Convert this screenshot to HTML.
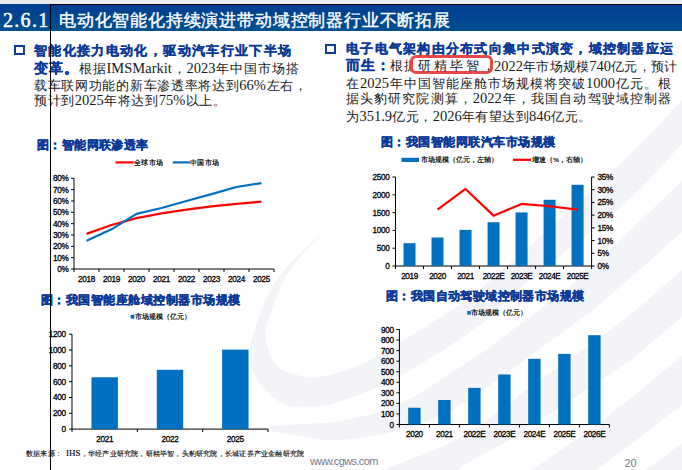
<!DOCTYPE html>
<html><head><meta charset="utf-8">
<style>
html,body{margin:0;padding:0;}
body{width:682px;height:470px;position:relative;overflow:hidden;background:#fff;font-family:"Liberation Serif",serif;}
.a{position:absolute;white-space:nowrap;}
.ln{position:absolute;white-space:nowrap;font-size:13px;line-height:20px;color:#1a1a1a;text-align:justify;text-align-last:justify;}
.n{font-size:14.5px;}
.b{color:#0b3a98;font-weight:bold;-webkit-text-stroke:0.3px #0b3a98;}
.ttl{position:absolute;white-space:nowrap;font-size:12px;line-height:16px;color:#0b3a98;font-weight:bold;text-align:justify;text-align-last:justify;-webkit-text-stroke:0.4px #0b3a98;}
.lg{position:absolute;white-space:nowrap;font-size:7px;line-height:10px;color:#000;text-align:justify;text-align-last:justify;-webkit-text-stroke:0.2px #000;}
.sq{position:absolute;box-sizing:border-box;border:2.5px solid #0b3a98;width:11px;height:10px;}
svg text{font-family:"Liberation Sans",sans-serif;stroke:#000;stroke-width:0.3px;}
</style></head>
<body>
<svg class="a" style="left:0;top:0" width="682" height="470" viewBox="0 0 682 470">
<g fill="#f3f4f8"><path d="M330.0 226.0 C323.3 233.3 300.0 255.2 290.0 270.0 C280.0 284.8 274.0 303.3 270.0 315.0 C266.0 326.7 265.0 331.7 266.0 340.0 C267.0 348.3 271.2 359.2 276.0 365.0 C280.8 370.8 287.7 372.5 295.0 374.5 C302.3 376.5 309.2 378.6 320.0 377.0 C330.8 375.4 346.7 370.8 360.0 365.0 C373.3 359.2 387.3 349.5 400.0 342.0 C412.7 334.5 420.8 330.3 436.0 320.0 C451.2 309.7 460.0 306.3 491.0 280.0 C522.0 253.7 590.2 192.0 622.0 162.0 C653.8 132.0 665.7 117.0 682.0 100.0 C698.3 83.0 713.7 66.7 720.0 60.0 L720.0 104.0 C713.7 110.7 698.3 127.0 682.0 144.0 C665.7 161.0 648.2 182.7 622.0 206.0 C595.8 229.3 548.7 264.2 525.0 284.0 C501.3 303.8 500.8 309.7 480.0 325.0 C459.2 340.3 423.7 363.2 400.0 376.0 C376.3 388.8 354.3 396.9 338.0 402.0 C321.7 407.1 311.5 406.7 302.0 406.8 C292.5 406.9 288.0 406.4 281.0 402.6 C274.0 398.8 265.2 391.1 260.0 384.0 C254.8 376.9 251.0 368.7 250.0 360.0 C249.0 351.3 249.3 345.7 254.0 332.0 C258.7 318.3 265.3 295.7 278.0 278.0 C290.7 260.3 321.3 234.7 330.0 226.0 Z"/><path d="M252.0 428.0 C260.0 427.3 285.3 425.2 300.0 424.0 C314.7 422.8 323.3 424.3 340.0 421.0 C356.7 417.7 376.7 415.2 400.0 404.0 C423.3 392.8 463.5 364.7 480.0 354.0 C496.5 343.3 482.7 352.3 499.0 340.0 C515.3 327.7 557.5 297.0 578.0 280.0 C598.5 263.0 604.7 254.5 622.0 238.0 C639.3 221.5 665.7 196.5 682.0 181.0 C698.3 165.5 713.7 151.0 720.0 145.0 L720.0 198.0 C713.7 203.7 698.3 217.5 682.0 232.0 C665.7 246.5 635.7 273.0 622.0 285.0 C608.3 297.0 611.7 294.8 600.0 304.0 C588.3 313.2 575.3 323.2 552.0 340.0 C528.7 356.8 485.3 390.0 460.0 405.0 C434.7 420.0 420.0 424.2 400.0 430.0 C380.0 435.8 356.7 439.0 340.0 440.0 C323.3 441.0 314.7 438.0 300.0 436.0 C285.3 434.0 260.0 429.3 252.0 428.0 Z"/><path d="M370.0 474.0 C385.0 467.9 431.7 453.4 460.0 437.7 C488.3 422.0 513.0 399.4 540.0 380.0 C567.0 360.6 598.3 339.3 622.0 321.0 C645.7 302.7 665.7 283.8 682.0 270.0 C698.3 256.2 713.7 243.3 720.0 238.0 L720.0 288.0 C713.7 292.8 698.3 304.0 682.0 317.0 C665.7 330.0 648.2 347.2 622.0 366.0 C595.8 384.8 548.7 415.0 525.0 430.0 C501.3 445.0 492.5 448.7 480.0 456.0 C467.5 463.3 455.0 471.0 450.0 474.0 Z"/><path d="M525.0 474.0 C534.2 467.8 563.8 448.5 580.0 437.0 C596.2 425.5 605.0 418.5 622.0 405.0 C639.0 391.5 665.7 369.2 682.0 356.0 C698.3 342.8 713.7 331.0 720.0 326.0 L720.0 378.0 C713.7 382.5 698.3 392.8 682.0 405.0 C665.7 417.2 637.3 439.5 622.0 451.0 C606.7 462.5 595.3 470.2 590.0 474.0 Z"/><path d="M640.0 474.0 C647.0 468.9 668.7 453.2 682.0 443.5 C695.3 433.8 713.7 420.6 720.0 416.0 L720.0 480.0 C716.7 480.0 703.3 480.0 700.0 480.0 Z"/></g>
</svg>

<!-- top strip -->
<div class="a" style="left:0;top:0;width:682px;height:4px;background:#e9e9ee"></div>
<div class="a" style="left:0;top:4px;width:682px;height:27px;background:linear-gradient(#003d93,#00508f)"></div>
<div class="a" style="left:50px;top:4px;width:632px;height:1px;background:#000"></div>
<div class="a" style="left:3px;top:6.5px;font-size:20px;line-height:26px;color:#fff;letter-spacing:1.3px;-webkit-text-stroke:0.5px #fff">2.6.1</div>
<div class="a" style="left:59px;top:7.5px;width:391px;font-size:17px;line-height:26px;color:#fff;text-align:justify;text-align-last:justify;-webkit-text-stroke:0.4px #fff">电动化智能化持续演进带动域控制器行业不断拓展</div>

<!-- left text -->
<div class="sq" style="left:14px;top:45px"></div>
<div class="ln b" style="left:34px;top:41px;width:257px;font-size:13px">智能化接力电动化，驱动汽车行业下半场</div>
<div class="ln" style="left:34px;top:57.5px;width:265px"><span class="b" style="font-size:13.5px">变革。</span>根据<span class="n">IMSMarkit</span>，<span class="n">2023</span>年中国市场搭</div>
<div class="ln" style="left:34px;top:75px;width:273px">载车联网功能的新车渗透率将达到<span class="n">66%</span>左右，</div>
<div class="ln" style="left:34px;top:89.5px;width:192px">预计到<span class="n">2025</span>年将达到<span class="n">75%</span>以上。</div>

<!-- right text -->
<div class="sq" style="left:325px;top:44px"></div>
<div class="ln b" style="left:346px;top:39px;width:327px;font-size:12.5px">电子电气架构由分布式向集中式演变，域控制器应运</div>
<div class="ln" style="left:346px;top:55.5px;width:71px"><span class="b" style="font-size:13.5px">而生：</span>根据</div>
<div class="a" style="left:410px;top:54.5px;width:83px;height:19px;box-sizing:border-box;border:3px solid #e84848;border-radius:6px;background:#fff"></div>
<div class="ln" style="left:418px;top:55.5px;width:77px">研精毕智，</div>
<div class="ln" style="left:494px;top:55.5px;width:183px"><span class="n">2022</span>年市场规模<span class="n">740</span>亿元，预计</div>
<div class="ln" style="left:346px;top:72.5px;width:325px">在<span class="n">2025</span>年中国智能座舱市场规模将突破<span class="n">1000</span>亿元。根</div>
<div class="ln" style="left:346px;top:88px;width:325px">据头豹研究院测算，<span class="n">2022</span>年，我国自动驾驶域控制器</div>
<div class="ln" style="left:346px;top:105.5px;width:245px">为<span class="n">351.9</span>亿元，<span class="n">2026</span>年有望达到<span class="n">846</span>亿元。</div>

<!-- chart titles -->
<div class="ttl" style="left:37px;top:137px;width:111px">图：智能网联渗透率</div>
<div class="ttl" style="left:381px;top:134px;width:174px">图：我国智能网联汽车市场规模</div>
<div class="ttl" style="left:41px;top:292px;width:199px">图：我国智能座舱域控制器市场规模</div>
<div class="ttl" style="left:386px;top:288px;width:198px">图：我国自动驾驶域控制器市场规模</div>

<!-- legends -->
<div class="lg" style="left:134px;top:157.5px;width:29px">全球市场</div>
<div class="lg" style="left:190px;top:157.5px;width:29px">中国市场</div>
<div class="lg" style="left:421px;top:154.5px;width:75px">市场规模（亿元，左轴）</div>
<div class="lg" style="left:532px;top:154.5px;width:55px">增速（%，右轴）</div>
<div class="lg" style="left:135px;top:311.5px;width:56px">市场规模（亿元）</div>
<div class="lg" style="left:471px;top:307.5px;width:55px">市场规模（亿元）</div>

<svg class="a" style="left:0;top:0" width="682" height="470" viewBox="0 0 682 470">
<path d="M74 178.3 V269 H274" stroke="#000" stroke-width="1" fill="none"/>
<path d="M71 269H74M71 257.66H74M71 246.32H74M71 234.99H74M71 223.65H74M71 212.31H74M71 200.98H74M71 189.64H74M71 178.3H74M74 269V272M99 269V272M124 269V272M149 269V272M174 269V272M199 269V272M224 269V272M249 269V272M274 269V272" stroke="#000" stroke-width="1" fill="none"/>
<text x="68.5" y="272" font-size="8.2" text-anchor="end" fill="#000" font-weight="normal" letter-spacing="-0.3">0%</text>
<text x="68.5" y="260.66" font-size="8.2" text-anchor="end" fill="#000" font-weight="normal" letter-spacing="-0.3">10%</text>
<text x="68.5" y="249.32" font-size="8.2" text-anchor="end" fill="#000" font-weight="normal" letter-spacing="-0.3">20%</text>
<text x="68.5" y="237.99" font-size="8.2" text-anchor="end" fill="#000" font-weight="normal" letter-spacing="-0.3">30%</text>
<text x="68.5" y="226.65" font-size="8.2" text-anchor="end" fill="#000" font-weight="normal" letter-spacing="-0.3">40%</text>
<text x="68.5" y="215.31" font-size="8.2" text-anchor="end" fill="#000" font-weight="normal" letter-spacing="-0.3">50%</text>
<text x="68.5" y="203.98" font-size="8.2" text-anchor="end" fill="#000" font-weight="normal" letter-spacing="-0.3">60%</text>
<text x="68.5" y="192.64" font-size="8.2" text-anchor="end" fill="#000" font-weight="normal" letter-spacing="-0.3">70%</text>
<text x="68.5" y="181.3" font-size="8.2" text-anchor="end" fill="#000" font-weight="normal" letter-spacing="-0.3">80%</text>
<text x="86.5" y="282.3" font-size="8.2" text-anchor="middle" fill="#000" font-weight="normal" letter-spacing="-0.3">2018</text>
<text x="111.5" y="282.3" font-size="8.2" text-anchor="middle" fill="#000" font-weight="normal" letter-spacing="-0.3">2019</text>
<text x="136.5" y="282.3" font-size="8.2" text-anchor="middle" fill="#000" font-weight="normal" letter-spacing="-0.3">2020</text>
<text x="161.5" y="282.3" font-size="8.2" text-anchor="middle" fill="#000" font-weight="normal" letter-spacing="-0.3">2021</text>
<text x="186.5" y="282.3" font-size="8.2" text-anchor="middle" fill="#000" font-weight="normal" letter-spacing="-0.3">2022</text>
<text x="211.5" y="282.3" font-size="8.2" text-anchor="middle" fill="#000" font-weight="normal" letter-spacing="-0.3">2023</text>
<text x="236.5" y="282.3" font-size="8.2" text-anchor="middle" fill="#000" font-weight="normal" letter-spacing="-0.3">2024</text>
<text x="261.5" y="282.3" font-size="8.2" text-anchor="middle" fill="#000" font-weight="normal" letter-spacing="-0.3">2025</text>
<polyline points="86.5,233.85 111.5,225.01 136.5,218.09 161.5,213.45 186.5,209.7 211.5,206.42 236.5,203.92 261.5,201.66" fill="none" stroke="#ff0000" stroke-width="2.2" stroke-linejoin="round"/>
<polyline points="86.5,240.66 111.5,229.32 136.5,213.9 161.5,208 186.5,200.98 211.5,194.17 236.5,187.03 261.5,183.06" fill="none" stroke="#0070c0" stroke-width="2.2" stroke-linejoin="round"/>
<path d="M115.5 162.4H133.7" stroke="#ff0000" stroke-width="2.2"/>
<path d="M172.7 162.4H189.8" stroke="#0070c0" stroke-width="2.2"/>
<path d="M395.5 177 V266 H591.6 V177" stroke="#000" stroke-width="1" fill="none"/>
<path d="M392.5 266H395.5M392.5 248.2H395.5M392.5 230.4H395.5M392.5 212.6H395.5M392.5 194.8H395.5M392.5 177H395.5M591.6 266H594.6M591.6 253.29H594.6M591.6 240.57H594.6M591.6 227.86H594.6M591.6 215.14H594.6M591.6 202.43H594.6M591.6 189.71H594.6M591.6 177H594.6M395.5 266V269M423.51 266V269M451.53 266V269M479.54 266V269M507.56 266V269M535.57 266V269M563.59 266V269M591.6 266V269" stroke="#000" stroke-width="1" fill="none"/>
<rect x="403.51" y="243.22" width="12" height="22.78" fill="#0070c0"/>
<rect x="431.52" y="237.52" width="12" height="28.48" fill="#0070c0"/>
<rect x="459.54" y="229.87" width="12" height="36.13" fill="#0070c0"/>
<rect x="487.55" y="222.21" width="12" height="43.79" fill="#0070c0"/>
<rect x="515.56" y="212.42" width="12" height="53.58" fill="#0070c0"/>
<rect x="543.58" y="199.78" width="12" height="66.22" fill="#0070c0"/>
<rect x="571.59" y="184.83" width="12" height="81.17" fill="#0070c0"/>
<polyline points="437.52,209.55 465.54,188.95 493.55,215.65 521.56,203.95 549.58,206.24 577.59,209.55" fill="none" stroke="#ff0000" stroke-width="2.2" stroke-linejoin="round"/>
<text x="389.5" y="269" font-size="8.2" text-anchor="end" fill="#000" font-weight="normal" letter-spacing="-0.3">0</text>
<text x="389.5" y="251.2" font-size="8.2" text-anchor="end" fill="#000" font-weight="normal" letter-spacing="-0.3">500</text>
<text x="389.5" y="233.4" font-size="8.2" text-anchor="end" fill="#000" font-weight="normal" letter-spacing="-0.3">1000</text>
<text x="389.5" y="215.6" font-size="8.2" text-anchor="end" fill="#000" font-weight="normal" letter-spacing="-0.3">1500</text>
<text x="389.5" y="197.8" font-size="8.2" text-anchor="end" fill="#000" font-weight="normal" letter-spacing="-0.3">2000</text>
<text x="389.5" y="180" font-size="8.2" text-anchor="end" fill="#000" font-weight="normal" letter-spacing="-0.3">2500</text>
<text x="597.5" y="269" font-size="8.2" text-anchor="start" fill="#000" font-weight="normal" letter-spacing="-0.3">0%</text>
<text x="597.5" y="256.29" font-size="8.2" text-anchor="start" fill="#000" font-weight="normal" letter-spacing="-0.3">5%</text>
<text x="597.5" y="243.57" font-size="8.2" text-anchor="start" fill="#000" font-weight="normal" letter-spacing="-0.3">10%</text>
<text x="597.5" y="230.86" font-size="8.2" text-anchor="start" fill="#000" font-weight="normal" letter-spacing="-0.3">15%</text>
<text x="597.5" y="218.14" font-size="8.2" text-anchor="start" fill="#000" font-weight="normal" letter-spacing="-0.3">20%</text>
<text x="597.5" y="205.43" font-size="8.2" text-anchor="start" fill="#000" font-weight="normal" letter-spacing="-0.3">25%</text>
<text x="597.5" y="192.71" font-size="8.2" text-anchor="start" fill="#000" font-weight="normal" letter-spacing="-0.3">30%</text>
<text x="597.5" y="180" font-size="8.2" text-anchor="start" fill="#000" font-weight="normal" letter-spacing="-0.3">35%</text>
<text x="409.51" y="279.3" font-size="8.2" text-anchor="middle" fill="#000" font-weight="normal" letter-spacing="-0.4">2019</text>
<text x="437.52" y="279.3" font-size="8.2" text-anchor="middle" fill="#000" font-weight="normal" letter-spacing="-0.4">2020</text>
<text x="465.54" y="279.3" font-size="8.2" text-anchor="middle" fill="#000" font-weight="normal" letter-spacing="-0.4">2021</text>
<text x="493.55" y="279.3" font-size="8.2" text-anchor="middle" fill="#000" font-weight="normal" letter-spacing="-0.4">2022E</text>
<text x="521.56" y="279.3" font-size="8.2" text-anchor="middle" fill="#000" font-weight="normal" letter-spacing="-0.4">2023E</text>
<text x="549.58" y="279.3" font-size="8.2" text-anchor="middle" fill="#000" font-weight="normal" letter-spacing="-0.4">2024E</text>
<text x="577.59" y="279.3" font-size="8.2" text-anchor="middle" fill="#000" font-weight="normal" letter-spacing="-0.4">2025E</text>
<rect x="401.5" y="157.8" width="17.5" height="4.2" fill="#0070c0"/>
<path d="M513 159.8H531" stroke="#ff0000" stroke-width="2.2"/>
<path d="M72 334.2 V429.1 H268" stroke="#000" stroke-width="1" fill="none"/>
<path d="M69 429.1H72M69 413.28H72M69 397.47H72M69 381.65H72M69 365.83H72M69 350.02H72M69 334.2H72M72 429.1V432.1M137.33 429.1V432.1M202.67 429.1V432.1M268 429.1V432.1" stroke="#000" stroke-width="1" fill="none"/>
<rect x="91.47" y="377.3" width="26.4" height="51.8" fill="#0070c0"/>
<rect x="156.8" y="369.79" width="26.4" height="59.31" fill="#0070c0"/>
<rect x="222.13" y="349.62" width="26.4" height="79.48" fill="#0070c0"/>
<text x="65.8" y="432.1" font-size="8.2" text-anchor="end" fill="#000" font-weight="normal" letter-spacing="-0.3">0</text>
<text x="65.8" y="416.28" font-size="8.2" text-anchor="end" fill="#000" font-weight="normal" letter-spacing="-0.3">200</text>
<text x="65.8" y="400.47" font-size="8.2" text-anchor="end" fill="#000" font-weight="normal" letter-spacing="-0.3">400</text>
<text x="65.8" y="384.65" font-size="8.2" text-anchor="end" fill="#000" font-weight="normal" letter-spacing="-0.3">600</text>
<text x="65.8" y="368.83" font-size="8.2" text-anchor="end" fill="#000" font-weight="normal" letter-spacing="-0.3">800</text>
<text x="65.8" y="353.02" font-size="8.2" text-anchor="end" fill="#000" font-weight="normal" letter-spacing="-0.3">1000</text>
<text x="65.8" y="337.2" font-size="8.2" text-anchor="end" fill="#000" font-weight="normal" letter-spacing="-0.3">1200</text>
<text x="104.67" y="442.4" font-size="8.2" text-anchor="middle" fill="#000" font-weight="normal" letter-spacing="-0.3">2021</text>
<text x="170" y="442.4" font-size="8.2" text-anchor="middle" fill="#000" font-weight="normal" letter-spacing="-0.3">2022</text>
<text x="235.33" y="442.4" font-size="8.2" text-anchor="middle" fill="#000" font-weight="normal" letter-spacing="-0.3">2025</text>
<rect x="130.6" y="314.8" width="3.8" height="3.8" fill="#0070c0"/>
<path d="M399.4 329.5 V424.5 H609.4" stroke="#000" stroke-width="1" fill="none"/>
<path d="M396.4 424.5H399.4M396.4 413.94H399.4M396.4 403.39H399.4M396.4 392.83H399.4M396.4 382.28H399.4M396.4 371.72H399.4M396.4 361.17H399.4M396.4 350.61H399.4M396.4 340.06H399.4M396.4 329.5H399.4M399.4 424.5V427.5M429.4 424.5V427.5M459.4 424.5V427.5M489.4 424.5V427.5M519.4 424.5V427.5M549.4 424.5V427.5M579.4 424.5V427.5M609.4 424.5V427.5" stroke="#000" stroke-width="1" fill="none"/>
<rect x="408.2" y="407.72" width="12.4" height="16.78" fill="#0070c0"/>
<rect x="438.2" y="400.01" width="12.4" height="24.49" fill="#0070c0"/>
<rect x="468.2" y="387.87" width="12.4" height="36.63" fill="#0070c0"/>
<rect x="498.2" y="374.47" width="12.4" height="50.03" fill="#0070c0"/>
<rect x="528.2" y="358.84" width="12.4" height="65.66" fill="#0070c0"/>
<rect x="558.2" y="353.88" width="12.4" height="70.62" fill="#0070c0"/>
<rect x="588.2" y="335.2" width="12.4" height="89.3" fill="#0070c0"/>
<text x="393.8" y="427.5" font-size="8.2" text-anchor="end" fill="#000" font-weight="normal" letter-spacing="-0.3">0</text>
<text x="393.8" y="416.94" font-size="8.2" text-anchor="end" fill="#000" font-weight="normal" letter-spacing="-0.3">100</text>
<text x="393.8" y="406.39" font-size="8.2" text-anchor="end" fill="#000" font-weight="normal" letter-spacing="-0.3">200</text>
<text x="393.8" y="395.83" font-size="8.2" text-anchor="end" fill="#000" font-weight="normal" letter-spacing="-0.3">300</text>
<text x="393.8" y="385.28" font-size="8.2" text-anchor="end" fill="#000" font-weight="normal" letter-spacing="-0.3">400</text>
<text x="393.8" y="374.72" font-size="8.2" text-anchor="end" fill="#000" font-weight="normal" letter-spacing="-0.3">500</text>
<text x="393.8" y="364.17" font-size="8.2" text-anchor="end" fill="#000" font-weight="normal" letter-spacing="-0.3">600</text>
<text x="393.8" y="353.61" font-size="8.2" text-anchor="end" fill="#000" font-weight="normal" letter-spacing="-0.3">700</text>
<text x="393.8" y="343.06" font-size="8.2" text-anchor="end" fill="#000" font-weight="normal" letter-spacing="-0.3">800</text>
<text x="393.8" y="332.5" font-size="8.2" text-anchor="end" fill="#000" font-weight="normal" letter-spacing="-0.3">900</text>
<text x="414.4" y="437.4" font-size="8.2" text-anchor="middle" fill="#000" font-weight="normal" letter-spacing="-0.4">2020</text>
<text x="444.4" y="437.4" font-size="8.2" text-anchor="middle" fill="#000" font-weight="normal" letter-spacing="-0.4">2021</text>
<text x="474.4" y="437.4" font-size="8.2" text-anchor="middle" fill="#000" font-weight="normal" letter-spacing="-0.4">2022E</text>
<text x="504.4" y="437.4" font-size="8.2" text-anchor="middle" fill="#000" font-weight="normal" letter-spacing="-0.4">2023E</text>
<text x="534.4" y="437.4" font-size="8.2" text-anchor="middle" fill="#000" font-weight="normal" letter-spacing="-0.4">2024E</text>
<text x="564.4" y="437.4" font-size="8.2" text-anchor="middle" fill="#000" font-weight="normal" letter-spacing="-0.4">2025E</text>
<text x="594.4" y="437.4" font-size="8.2" text-anchor="middle" fill="#000" font-weight="normal" letter-spacing="-0.4">2026E</text>
<rect x="467.2" y="311" width="3.6" height="3.6" fill="#0070c0"/>
</svg>

<!-- source -->
<div class="lg" style="left:26px;top:448px;width:278px;font-size:7px;-webkit-text-stroke:0.1px #000">数据来源：&nbsp;&nbsp;<span style="font-size:9px">IHS</span>，华经产业研究院，研精毕智，头豹研究院，长城证券产业金融研究院</div>

<!-- footer -->
<div class="a" style="left:310px;top:454px;font-family:'Liberation Sans',sans-serif;font-size:11px;line-height:14px;color:#7a7d8c;letter-spacing:-0.62px">www.cgws.com</div>
<div class="a" style="left:624.5px;top:456px;font-family:'Liberation Sans',sans-serif;font-size:11px;line-height:14px;color:#7a7d8c">20</div>

<!-- vertical line -->
<div class="a" style="left:50px;top:4px;width:1px;height:466px;background:#000"></div>
</body></html>
